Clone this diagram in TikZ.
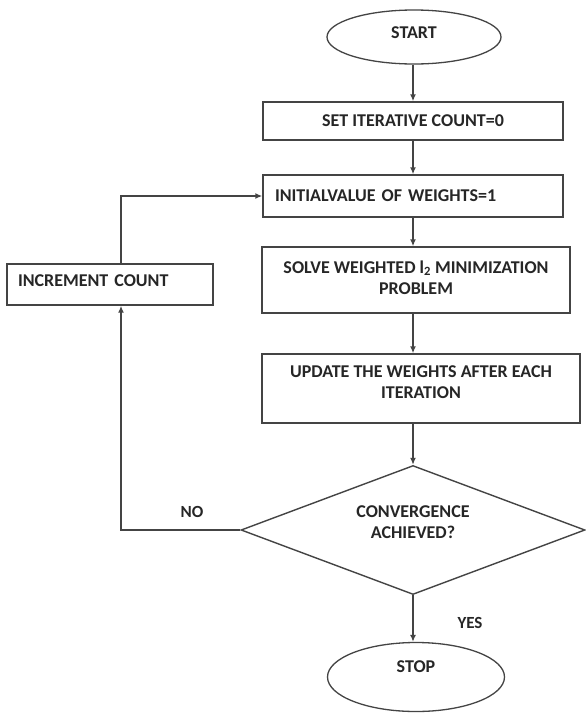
\documentclass[tikz,border=0pt]{standalone}
\usepackage{fontspec}
\setmainfont{Carlito}
\usepackage{tikz}
\usetikzlibrary{arrows.meta}
\usetikzlibrary{shapes.geometric}
\definecolor{inkgray}{HTML}{444444}
\definecolor{textgray}{HTML}{262626}
\tikzset{flow/.style = {draw = inkgray, line width = 1.4pt, -{Latex[length = 7pt, width = 6pt]}}}
\tikzset{box/.style = {draw = inkgray, line width = 1.4pt, rectangle, inner sep = 0,
                       text = textgray, align = center,
                       font = \fontsize{18}{21}\selectfont\bfseries}}
\tikzset{term/.style = {draw = inkgray, line width = 1.3pt, ellipse, inner sep = 0,
                        text = textgray, font = \fontsize{18}{21}\selectfont\bfseries}}
\tikzset{decide/.style = {draw = inkgray, line width = 1.4pt, diamond, aspect = 2.67,
                          inner sep = 0, text = textgray, align = center,
                          font = \fontsize{18}{21}\selectfont\bfseries}}
\tikzset{tag/.style = {text = textgray, font = \fontsize{17}{20}\selectfont\bfseries}}

\begin{document}
\begin{tikzpicture}[x = 1pt, y = -1pt]
      \fill [white] (0, 0) rectangle (583, 713);

      \node [term, minimum width = 174, minimum height = 54, text depth = 8pt] (start) at (414, 37) {START};
      \node [box, minimum width = 300, minimum height = 38] (setcount) at (413, 121) {SET ITERATIVE COUNT=0};
      \node [box, minimum width = 300, minimum height = 42, text width = 276, align = left] (initw) at (413, 196) {INITIALVALUE OF WEIGHTS=1};
      \node [box, minimum width = 308, minimum height = 66, text depth = 5pt] (solve) at (416, 280) {SOLVE WEIGHTED l\textsubscript{2} MINIMIZATION\\PROBLEM};
      \node [box, minimum width = 318, minimum height = 69, text depth = 12pt] (update) at (421, 388.5) {UPDATE THE WEIGHTS AFTER EACH\\ITERATION};
      \node [decide, minimum width = 344, minimum height = 129, text depth = 15pt] (conv) at (413, 530) {CONVERGENCE\\ACHIEVED?};
      \node [term, minimum width = 177, minimum height = 69, text depth = 20pt] (stop) at (416, 677) {STOP};
      \node [box, minimum width = 206, minimum height = 41, text width = 184, align = left, text depth = 8pt] (incr) at (110, 284.5) {INCREMENT COUNT};

      \node [tag] (no) at (192, 512) {NO};
      \node [tag] (yes) at (470, 623) {YES};

      \coordinate (spine) at (413, 0);
      \coordinate (bend) at (121, 530);

      \draw [flow] (spine |- start.south) -- (spine |- setcount.north);
      \draw [flow] (spine |- setcount.south) -- (spine |- initw.north);
      \draw [flow] (spine |- initw.south) -- (spine |- solve.north);
      \draw [flow] (spine |- solve.south) -- (spine |- update.north);
      \draw [flow] (spine |- update.south) -- (spine |- conv.north);
      \draw [flow] (spine |- conv.south) -- (spine |- stop.north);

      \draw [flow] (conv.west) -- (bend) -- (bend |- incr.south);
      \draw [flow] (bend |- incr.north) |- (initw.west);
    \end{tikzpicture}
\end{document}
